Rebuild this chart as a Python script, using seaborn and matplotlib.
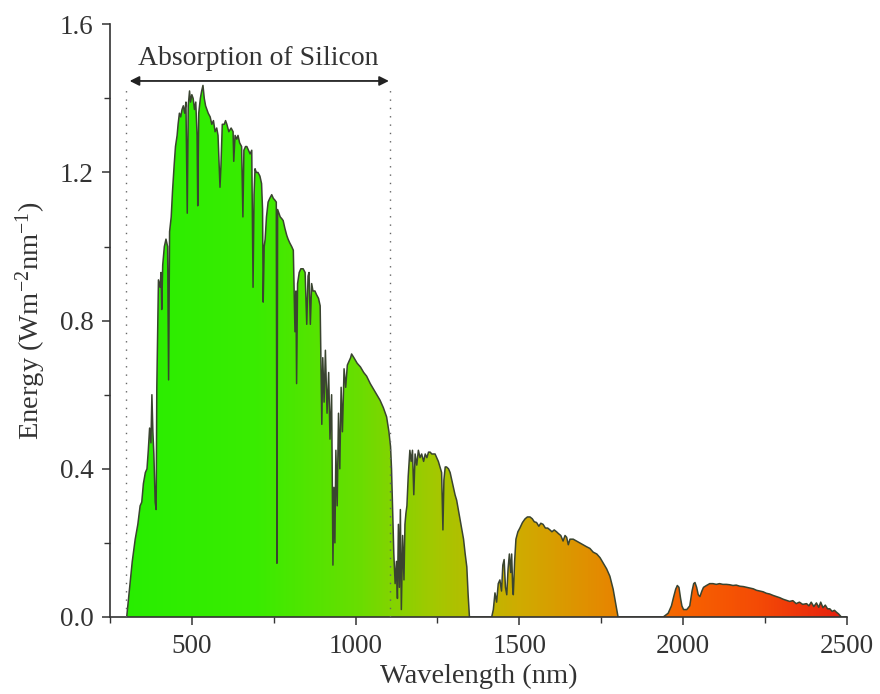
import numpy as np
import matplotlib
matplotlib.use("Agg")
import matplotlib.pyplot as plt
from matplotlib.colors import LinearSegmentedColormap
from matplotlib.ticker import MultipleLocator
import seaborn as sns

# wavelength (nm) and spectral irradiance
wavelength = [
    301, 310, 318, 327, 335, 342, 347, 352, 358, 363, 367, 371, 375, 378, 381, 384, 388, 391,
    393, 396, 398, 403, 406, 408, 411, 416, 421, 426, 429, 432, 437, 441, 446, 450, 455, 458,
    462, 466, 470, 474, 478, 482, 486, 489, 493, 496, 500, 504, 508, 512, 516, 518, 521, 526,
    530, 534, 538, 542, 546, 550, 556, 561, 566, 571, 576, 580, 586, 589, 593, 599, 603, 607,
    613, 620, 626, 628, 632, 637, 641, 646, 652, 656, 659, 664, 668, 673, 678, 683, 687, 690,
    693, 697, 702, 708, 713, 716, 718, 721, 724, 728, 733, 738, 744, 749, 754, 758, 760, 762,
    766, 770, 775, 779, 784, 790, 794, 799, 805, 810, 815, 818, 820, 823, 828, 833, 840, 846,
    851, 855, 858, 862, 866, 870, 876, 881, 887, 892, 897, 900, 904, 908, 913, 918, 922, 927,
    931, 934, 937, 940, 944, 948, 952, 956, 960, 965, 970, 975, 980, 985, 988, 995, 1005, 1015,
    1025, 1034, 1045, 1055, 1065, 1075, 1085, 1095, 1102, 1107, 1110, 1113, 1117, 1121, 1125,
    1128, 1131, 1134, 1137, 1140, 1144, 1148, 1151, 1154, 1157, 1161, 1166, 1170, 1174, 1178,
    1182, 1187, 1192, 1197, 1202, 1208, 1213, 1218, 1223, 1228, 1233, 1238, 1243, 1248, 1253,
    1258, 1263, 1267, 1270, 1274, 1278, 1284, 1289, 1294, 1299, 1304, 1309, 1314, 1320, 1325,
    1330, 1335, 1340, 1344, 1348, 1380, 1416, 1421, 1426, 1431, 1436, 1441, 1446, 1450, 1454,
    1458, 1462, 1466, 1470, 1474, 1477, 1480, 1482, 1486, 1490, 1496, 1502, 1510, 1518, 1525,
    1533, 1540, 1546, 1553, 1560, 1566, 1573, 1580, 1587, 1594, 1600, 1607, 1614, 1620, 1627,
    1634, 1640, 1645, 1650, 1655, 1665, 1675, 1685, 1695, 1705, 1716, 1726, 1737, 1747, 1757,
    1767, 1777, 1787, 1795, 1802, 1870, 1940, 1955, 1965, 1972, 1978, 1983, 1988, 1993, 1997,
    2002, 2012, 2021, 2028, 2033, 2037, 2042, 2047, 2052, 2058, 2063, 2072, 2082, 2092, 2102,
    2112, 2122, 2133, 2143, 2153, 2163, 2174, 2185, 2195, 2205, 2215, 2225, 2235, 2245, 2255,
    2265, 2276, 2286, 2296, 2306, 2316, 2326, 2336, 2346, 2356, 2366, 2378, 2385, 2392, 2400,
    2408, 2415, 2421, 2428, 2435, 2442, 2449, 2456, 2463, 2469, 2476, 2484, 2500,
]
energy = [
    0.0, 0.08, 0.15, 0.21, 0.25, 0.30, 0.31, 0.36, 0.39, 0.40, 0.45, 0.51, 0.47, 0.60, 0.50, 0.44, 0.31, 0.29,
    0.62, 0.80, 0.91, 0.89, 0.93, 0.83, 0.95, 1.00, 1.02, 1.00, 0.64, 1.04, 1.08, 1.15, 1.22, 1.27, 1.30, 1.33,
    1.36, 1.35, 1.37, 1.38, 1.36, 1.39, 1.09, 1.38, 1.42, 1.39, 1.41, 1.40, 1.37, 1.39, 1.30, 1.11, 1.36, 1.40,
    1.42, 1.435, 1.40, 1.38, 1.37, 1.36, 1.35, 1.33, 1.34, 1.31, 1.32, 1.30, 1.16, 1.22, 1.33, 1.33, 1.34, 1.33,
    1.31, 1.32, 1.31, 1.23, 1.30, 1.29, 1.30, 1.28, 1.27, 1.08, 1.26, 1.27, 1.27, 1.26, 1.25, 1.26, 0.89, 1.14,
    1.21, 1.20, 1.20, 1.19, 1.17, 1.10, 0.85, 1.00, 1.02, 1.08, 1.12, 1.13, 1.14, 1.13, 1.125, 1.12, 0.145, 1.10,
    1.09, 1.08, 1.075, 1.07, 1.05, 1.03, 1.02, 1.01, 1.00, 0.99, 0.77, 0.88, 0.63, 0.90, 0.93, 0.94, 0.94, 0.93,
    0.79, 0.92, 0.93, 0.79, 0.90, 0.88, 0.88, 0.87, 0.86, 0.84, 0.52, 0.70, 0.58, 0.72, 0.55, 0.66, 0.48, 0.60,
    0.14, 0.35, 0.20, 0.45, 0.30, 0.55, 0.40, 0.62, 0.50, 0.67, 0.62, 0.68, 0.69, 0.70, 0.71, 0.70, 0.685, 0.675,
    0.66, 0.65, 0.63, 0.615, 0.60, 0.585, 0.565, 0.54, 0.50, 0.46, 0.40, 0.30, 0.17, 0.09, 0.15,
    0.05, 0.25, 0.08, 0.29, 0.02, 0.22, 0.10, 0.25, 0.28, 0.30, 0.38, 0.45, 0.42, 0.45, 0.33,
    0.44, 0.41, 0.45, 0.43, 0.44, 0.42, 0.44, 0.43, 0.445, 0.445, 0.44, 0.44, 0.44, 0.43, 0.42,
    0.405, 0.39, 0.235, 0.37, 0.405, 0.405, 0.40, 0.39, 0.37, 0.35, 0.33, 0.315, 0.29, 0.26, 0.235,
    0.21, 0.17, 0.135, 0.06, 0.0, 0.0, 0.0, 0.02, 0.065, 0.04, 0.09, 0.10, 0.07, 0.14, 0.155,
    0.08, 0.06, 0.13, 0.17, 0.12, 0.17, 0.08, 0.06, 0.15, 0.21, 0.23, 0.24, 0.255, 0.265, 0.27,
    0.27, 0.265, 0.257, 0.255, 0.245, 0.253, 0.25, 0.24, 0.24, 0.235, 0.23, 0.235, 0.23, 0.225, 0.22,
    0.205, 0.22, 0.215, 0.195, 0.21, 0.21, 0.205, 0.20, 0.195, 0.19, 0.185, 0.175, 0.17, 0.16, 0.145,
    0.13, 0.11, 0.075, 0.035, 0.0, 0.0, 0.0, 0.01, 0.03, 0.055, 0.075, 0.085, 0.08, 0.05, 0.03,
    0.02, 0.02, 0.03, 0.07, 0.09, 0.093, 0.08, 0.06, 0.055, 0.07, 0.08, 0.085, 0.09, 0.09, 0.088,
    0.09, 0.088, 0.088, 0.087, 0.085, 0.086, 0.083, 0.082, 0.08, 0.078, 0.076, 0.072, 0.07, 0.068, 0.064,
    0.062, 0.058, 0.055, 0.052, 0.048, 0.045, 0.042, 0.044, 0.036, 0.040, 0.034, 0.036, 0.03, 0.04, 0.028,
    0.038, 0.026, 0.04, 0.025, 0.032, 0.022, 0.022, 0.015, 0.018, 0.013, 0.008, 0.0, 0.0,
]

si_edges = [300, 1105]
si_label = "Absorption of Silicon"

sns.set_style("ticks")
plt.rcParams["font.family"] = ["Liberation Serif", "DejaVu Serif"]
plt.rcParams["mathtext.default"] = "regular"

fig = plt.figure(figsize=(8.8, 6.94), dpi=100)
ax = fig.add_axes([0.125, 0.111, 0.837, 0.854])

# green -> red gradient clipped to the spectrum
cmap = LinearSegmentedColormap.from_list("spec", [
    (0.0, "#28ee00"), (0.18, "#3aec00"), (0.32, "#68de00"), (0.43, "#a4c800"),
    (0.545, "#cfac00"), (0.66, "#e48a00"), (0.77, "#f76400"), (0.88, "#f44a06"),
    (1.0, "#e61e10")])
grad = np.linspace(0, 1, 512).reshape(1, -1)
im = ax.imshow(grad, extent=[300, 2500, 0, 1.6], aspect="auto", cmap=cmap, zorder=1)
poly = ax.fill_between(wavelength, energy, 0, facecolor="none", edgecolor="none")
im.set_clip_path(poly.get_paths()[0], transform=ax.transData)

sns.lineplot(x=wavelength, y=energy, color="#3a4430", lw=1.1, sort=False,
             estimator=None, ax=ax, zorder=2)

# silicon absorption range
ax.vlines(si_edges, 0, 1.425, colors="#666666", linestyles=(0, (1, 5)), lw=1.0, zorder=3)
ax.annotate("", xy=(si_edges[0] + 10, 1.447), xytext=(si_edges[1] - 3, 1.447),
            arrowprops=dict(arrowstyle="<|-|>", color="#222222", lw=1.3,
                            mutation_scale=14, shrinkA=0, shrinkB=0))
ax.text(sum(si_edges) / 2, 1.508, si_label, ha="center", va="center",
        fontsize=20, color="#333333")

ax.set_xlim(250, 2500)
ax.set_ylim(0, 1.6)
ax.set_xticks([500, 1000, 1500, 2000, 2500])
ax.set_yticks([0.0, 0.4, 0.8, 1.2, 1.6])
ax.yaxis.set_major_formatter(plt.FormatStrFormatter("%.1f"))
ax.xaxis.set_minor_locator(MultipleLocator(250))
ax.yaxis.set_minor_locator(MultipleLocator(0.2))
ax.tick_params(which="major", direction="out", length=6, width=1.1, colors="#333333",
               labelsize=19.5, labelcolor="#333333", pad=6)
ax.tick_params(which="minor", direction="out", length=4, width=1.0, colors="#333333")
ax.set_xlabel("Wavelength (nm)", fontsize=20.5, color="#333333", labelpad=4)
ax.set_ylabel("Energy (Wm$^{-2}$nm$^{-1}$)", fontsize=20.5, color="#333333", labelpad=8)

sns.despine(ax=ax)
for s in ["left", "bottom"]:
    ax.spines[s].set_linewidth(1.2)
    ax.spines[s].set_color("#333333")

fig.savefig("out.png", dpi=100)
